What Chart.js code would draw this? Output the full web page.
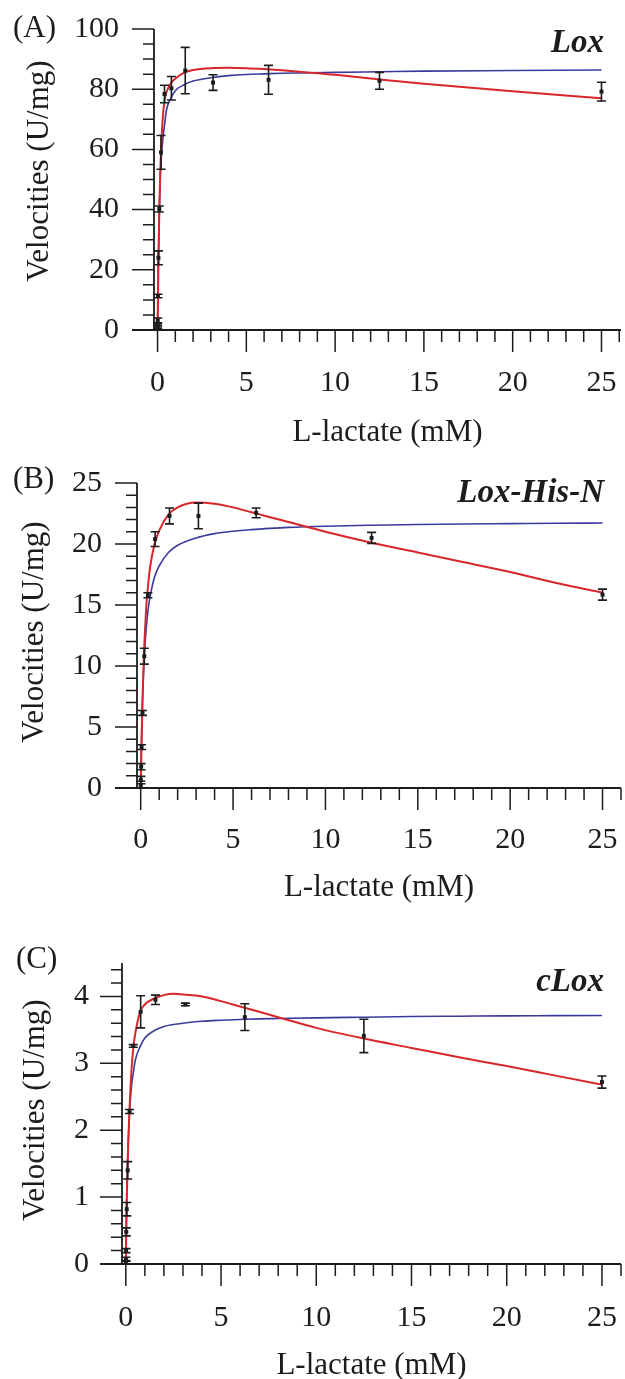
<!DOCTYPE html>
<html>
<head>
<meta charset="utf-8">
<script src="https://cdn.jsdelivr.net/npm/chart.js@4.4.0/dist/chart.umd.min.js"></script>
<style>
  html, body { margin: 0; padding: 0; background: #fff; overflow: hidden; }
  canvas { position: absolute; left: 0; }
</style>
</head>
<body>
<canvas id="panelA" width="625" height="455" style="top:0px"></canvas>
<canvas id="panelB" width="625" height="455" style="top:455px"></canvas>
<canvas id="panelC" width="625" height="480" style="top:910px"></canvas>
<script>
// measured points (L-lactate mM -> U/mg) with +/- error
const concA = [0.003, 0.006, 0.012, 0.024, 0.049, 0.098, 0.195, 0.39, 0.78, 1.56, 3.125, 6.25, 12.5, 25];
const velA = [1.0, 1.6, 3.2, 11.3, 24.0, 40.2, 59.0, 78.4, 80.3, 86.2, 82.2, 83.1, 82.8, 79.2];
const errA = [0.6, 0.6, 0.8, 0.6, 2.3, 1.0, 5.6, 2.9, 3.9, 7.7, 2.6, 4.8, 2.8, 3.1];

const concB = [0.006, 0.012, 0.024, 0.049, 0.098, 0.195, 0.39, 0.78, 1.56, 3.125, 6.25, 12.5, 25];
const velB = [0.25, 0.65, 1.75, 3.35, 6.15, 10.8, 15.8, 20.4, 22.3, 22.3, 22.55, 20.5, 15.85];
const errB = [0.3, 0.3, 0.25, 0.2, 0.2, 0.65, 0.2, 0.6, 0.65, 1.05, 0.4, 0.45, 0.45];

const concC = [0.003, 0.006, 0.012, 0.024, 0.049, 0.098, 0.195, 0.39, 0.78, 1.56, 3.125, 6.25, 12.5, 25];
const velC = [0.02, 0.07, 0.2, 0.48, 0.82, 1.40, 2.28, 3.26, 3.77, 3.95, 3.88, 3.69, 3.41, 2.72];
const errC = [0.03, 0.03, 0.03, 0.06, 0.1, 0.13, 0.03, 0.02, 0.24, 0.07, 0.02, 0.2, 0.25, 0.09];

// fitted curves (red: substrate inhibition, blue: Michaelis-Menten)
const curveXA = [0, 0.02, 0.04, 0.06, 0.1, 0.15, 0.2, 0.3, 0.4, 0.5, 0.75, 1, 1.5, 2, 3, 4, 5, 6, 7, 8, 10, 12.5, 15, 20, 25];
const redA = [0, 8, 18, 26, 40, 52, 60, 71, 76.5, 79, 82, 83.5, 85.5, 86.4, 87, 87.1, 87, 86.7, 86.3, 85.8, 84.8, 83.2, 81.8, 79.3, 77];
const blueA = [0, 12, 21, 28, 40, 50, 56, 63.5, 68.5, 73, 77, 79.5, 81.5, 82.7, 83.8, 84.5, 84.9, 85.1, 85.3, 85.4, 85.6, 85.8, 86, 86.2, 86.4];

const curveXB = [0, 0.02, 0.05, 0.1, 0.15, 0.2, 0.3, 0.4, 0.5, 0.75, 1, 1.5, 2, 3, 4, 5, 6, 7, 8, 10, 12.5, 15, 17.5, 20, 22.5, 25];
const redB = [0, 1.6, 3.9, 7.3, 9.8, 11.8, 14.8, 16.6, 18.0, 20.0, 21.1, 22.4, 23.0, 23.4, 23.3, 23.0, 22.6, 22.2, 21.8, 21.0, 20.1, 19.3, 18.5, 17.7, 16.8, 16.0];
const blueB = [0, 2, 4.4, 7.3, 9.3, 10.9, 13.1, 14.6, 15.6, 17.3, 18.2, 19.3, 19.9, 20.5, 20.85, 21.05, 21.18, 21.28, 21.36, 21.46, 21.54, 21.6, 21.64, 21.67, 21.7, 21.72];

const curveXC = [0, 0.02, 0.05, 0.1, 0.15, 0.2, 0.3, 0.4, 0.5, 0.75, 1, 1.5, 2, 2.5, 3, 4, 5, 6, 7, 8, 10, 12.5, 15, 17.5, 20, 22.5, 25];
const redC = [0, 0.4, 0.95, 1.55, 1.97, 2.35, 2.9, 3.25, 3.45, 3.77, 3.88, 3.97, 4.02, 4.04, 4.03, 4.0, 3.93, 3.85, 3.77, 3.69, 3.53, 3.37, 3.23, 3.09, 2.96, 2.82, 2.68];
const blueC = [0, 0.5, 1.05, 1.6, 2.0, 2.3, 2.66, 2.87, 3.05, 3.25, 3.38, 3.49, 3.55, 3.58, 3.6, 3.63, 3.645, 3.655, 3.665, 3.67, 3.68, 3.69, 3.70, 3.705, 3.71, 3.713, 3.716];

// tick labels
const xMajor = [0, 5, 10, 15, 20, 25];
const yMajorA = [0, 20, 40, 60, 80, 100];
const yMajorB = [0, 5, 10, 15, 20, 25];
const yMajorC = [0, 1, 2, 3, 4];

const INK = '#1c1c1c';
const RED = '#d8262b';
const BLUE = '#3a3a9c';
const SERIF = '"Liberation Serif", "Times New Roman", serif';
const CAP = 4.5;
const Y_TITLE = 'Velocities (U/mg)';

Chart.defaults.font.family = SERIF;
Chart.defaults.color = INK;

function toPoints(xs, ys) {
  return xs.map((x, i) => ({ x: x, y: ys[i] }));
}

function isMajor(v, majors) {
  return majors.some(m => Math.abs(m - v) < 1e-6);
}

function stepTicks(from, to, step) {
  const out = [];
  const n = Math.round((to - from) / step);
  for (let i = 0; i <= n; i++) out.push({ value: Math.round((from + i * step) * 1000) / 1000 });
  return out;
}

const framePlugin = {
  id: 'frame',
  afterDatasetsDraw(chart) {
    const { ctx, scales: { x, y } } = chart;
    const ds = chart.data.datasets[0];
    ctx.save();
    ctx.strokeStyle = INK;
    ctx.lineWidth = 1.6;
    ds.data.forEach((pt, i) => {
      const e = ds.errors[i];
      const px = x.getPixelForValue(pt.x);
      const t = y.getPixelForValue(pt.y + e);
      const b = y.getPixelForValue(Math.max(pt.y - e, 0));
      ctx.beginPath();
      ctx.moveTo(px, t); ctx.lineTo(px, b);
      ctx.moveTo(px - CAP, t); ctx.lineTo(px + CAP, t);
      ctx.moveTo(px - CAP, b); ctx.lineTo(px + CAP, b);
      ctx.stroke();
    });
    ctx.restore();
  },
  afterDraw(chart, args, o) {
    const { ctx, chartArea: a, scales: { x, y } } = chart;
    ctx.save();
    ctx.strokeStyle = INK;

    // axis lines
    ctx.lineWidth = 1.8;
    ctx.beginPath();
    ctx.moveTo(a.left, a.top); ctx.lineTo(a.left, a.bottom);
    ctx.moveTo(a.left - 22, a.bottom); ctx.lineTo(a.right, a.bottom);
    ctx.stroke();

    // tick marks, outward
    ctx.lineWidth = 1.5;
    ctx.beginPath();
    x.ticks.forEach(t => {
      const px = x.getPixelForValue(t.value);
      const len = isMajor(t.value, xMajor) ? 22 : 12;
      ctx.moveTo(px, a.bottom); ctx.lineTo(px, a.bottom + len);
    });
    y.ticks.forEach(t => {
      const py = y.getPixelForValue(t.value);
      const len = isMajor(t.value, o.yMajor) ? 22 : 11;
      ctx.moveTo(a.left, py); ctx.lineTo(a.left - len, py);
    });
    ctx.stroke();

    ctx.fillStyle = INK;
    ctx.textBaseline = 'middle';

    // y title, rotated; sits a little off the plot centre in the original
    ctx.save();
    ctx.translate(o.titleX, o.titleY);
    ctx.rotate(-Math.PI / 2);
    ctx.textAlign = 'center';
    ctx.font = '31px ' + SERIF;
    ctx.fillText(Y_TITLE, 0, 0);
    ctx.restore();

    // panel letter and enzyme name
    ctx.textAlign = 'left';
    ctx.font = '31px ' + SERIF;
    ctx.fillText(o.label, o.labelX, o.labelY);
    ctx.textAlign = 'right';
    ctx.font = 'italic bold 33px ' + SERIF;
    ctx.fillText(o.name, 604, o.nameY);
    ctx.restore();
  }
};

function makePanel(id, p) {
  const ctx = document.getElementById(id).getContext('2d');
  return new Chart(ctx, {
    type: 'line',
    data: {
      datasets: [
        {
          data: toPoints(p.conc, p.vel),
          errors: p.err,
          showLine: false,
          pointStyle: 'rect',
          pointRadius: 2.8,
          pointBackgroundColor: INK,
          pointBorderWidth: 0,
        },
        {
          data: toPoints(p.curveX, p.red),
          borderColor: RED,
          borderWidth: 2,
          pointRadius: 0,
          cubicInterpolationMode: 'monotone',
        },
        {
          data: toPoints(p.curveX, p.blue),
          borderColor: BLUE,
          borderWidth: 1.6,
          pointRadius: 0,
          cubicInterpolationMode: 'monotone',
        },
      ]
    },
    options: {
      responsive: false,
      animation: false,
      devicePixelRatio: 1,
      events: [],
      layout: { padding: { top: p.padTop, bottom: p.padBottom, left: 0, right: 0 } },
      plugins: {
        legend: { display: false },
        tooltip: { enabled: false },
        frame: {
          yMajor: p.yMajor, label: p.label, labelX: p.labelX, labelY: p.labelY,
          name: p.name, nameY: p.nameY, titleX: p.titleX, titleY: p.titleY,
        },
      },
      scales: {
        x: {
          type: 'linear',
          min: p.xMin,
          max: p.xMax,
          // tick marks are drawn by the plugin; tickLength only spaces the labels
          grid: { display: false, drawTicks: true, tickLength: p.xPad },
          border: { display: false },
          afterBuildTicks: s => { s.ticks = stepTicks(0, 26, 1); },
          afterFit: s => { s.height = p.xHeight; },
          ticks: {
            autoSkip: false,
            maxRotation: 0,
            padding: 0,
            font: { size: 30 },
            color: INK,
            callback: v => isMajor(v, xMajor) ? String(Math.round(v)) : '',
          },
          title: { display: true, text: 'L-lactate (mM)', font: { size: 31 }, color: INK, padding: 0 },
        },
        y: {
          type: 'linear',
          min: 0,
          max: p.yMax,
          grid: { display: false, drawTicks: true, tickLength: p.yPad },
          border: { display: false },
          afterBuildTicks: s => { s.ticks = stepTicks(0, p.yTickTop, p.yStep); },
          afterFit: s => { s.width = p.yWidth; },
          ticks: {
            autoSkip: false,
            padding: 0,
            font: { size: 30 },
            color: INK,
            callback: v => isMajor(v, p.yMajor) ? String(Math.round(v)) : '',
          },
        }
      }
    },
    plugins: [framePlugin]
  });
}

makePanel('panelA', {
  conc: concA, vel: velA, err: errA, curveX: curveXA, red: redA, blue: blueA,
  xMin: -0.2, xMax: 26.1, yMax: 100, yTickTop: 100, yStep: 5, yMajor: yMajorA,
  padTop: 29, padBottom: 4, xHeight: 121, yWidth: 154, xPad: 35, yPad: 35,
  titleX: 40, titleY: 171,
  label: '(A)', labelX: 13, labelY: 29, name: 'Lox', nameY: 43,
});

makePanel('panelB', {
  conc: concB, vel: velB, err: errB, curveX: curveXB, red: redB, blue: blueB,
  xMin: -0.2, xMax: 26.0, yMax: 25, yTickTop: 25, yStep: 1, yMajor: yMajorB,
  padTop: 28, padBottom: 4, xHeight: 118, yWidth: 137, xPad: 34, yPad: 35,
  titleX: 35, titleY: 177,
  label: '(B)', labelX: 13, labelY: 25, name: 'Lox-His-N', nameY: 38,
});

makePanel('panelC', {
  conc: concC, vel: velC, err: errC, curveX: curveXC, red: redC, blue: blueC,
  xMin: -0.2, xMax: 26.0, yMax: 4.5, yTickTop: 4.4, yStep: 0.2, yMajor: yMajorC,
  padTop: 53, padBottom: 6, xHeight: 120, yWidth: 122, xPad: 36, yPad: 33,
  titleX: 36, titleY: 200,
  label: '(C)', labelX: 16, labelY: 50, name: 'cLox', nameY: 72,
});
</script>
</body>
</html>
